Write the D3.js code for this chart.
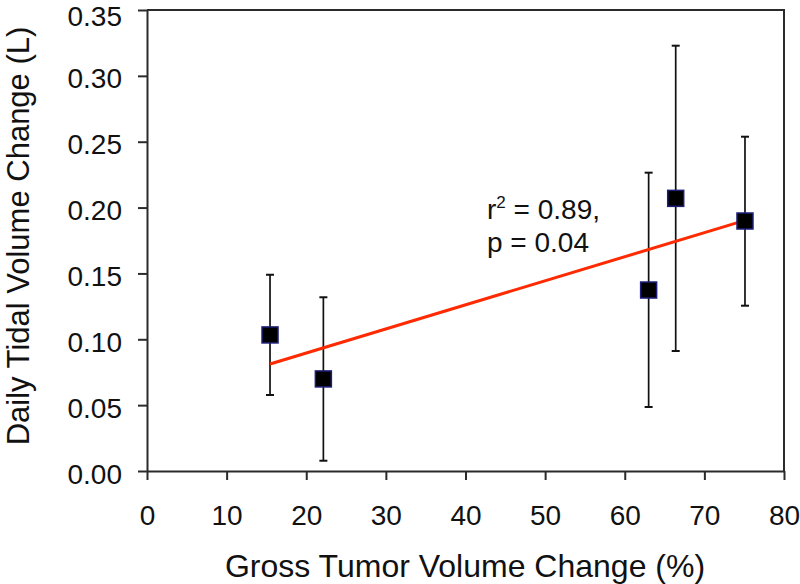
<!DOCTYPE html>
<html>
<head>
<meta charset="utf-8">
<script src="https://cdn.jsdelivr.net/npm/d3@7"></script>
<style>
  html, body { margin: 0; padding: 0; background: #fff; }
  svg { display: block; font-family: "Liberation Sans", Arial, sans-serif; }
</style>
</head>
<body>
<svg id="chart" width="800" height="584"></svg>
<script>
// Data
const tumorChange = [15.45, 22.15, 63.0, 66.4, 75.1];      // x (%)
const tidalChange = [0.1033, 0.0699, 0.1374, 0.2070, 0.1898]; // y (L)
const errLow  = [0.0577, 0.0078, 0.0486, 0.0911, 0.1255];
const errHigh = [0.1490, 0.1319, 0.2265, 0.3229, 0.2538];
const trendX = [15.45, 75.1];
const trendY = [0.0812, 0.1903];
const xTicks = [0, 10, 20, 30, 40, 50, 60, 70, 80];
const yTicks = [0, 0.05, 0.10, 0.15, 0.20, 0.25, 0.30, 0.35];
const xTitle = "Gross Tumor Volume Change (%)";
const yTitle = "Daily Tidal Volume Change (L)";

const svg = d3.select("#chart");
const L = 147, R = 784, T = 10, B = 471;
const x = d3.scaleLinear().domain([0, 80]).range([L, R]);
const y = d3.scaleLinear().domain([0, 0.35]).range([B, T]);
const axisColor = "#2b2b2b";

// frame (top & right)
svg.append("path")
  .attr("d", `M${L},${T}H${R}V${B}`)
  .attr("fill", "none").attr("stroke", axisColor).attr("stroke-width", 2);

// x axis
const gx = svg.append("g").attr("transform", `translate(0,${B})`)
  .call(d3.axisBottom(x).tickValues(xTicks).tickFormat(d3.format("d")).tickSizeInner(9).tickSizeOuter(0).tickPadding(0));
gx.select(".domain").attr("stroke", axisColor).attr("stroke-width", 2);
gx.selectAll(".tick line").attr("stroke", axisColor).attr("stroke-width", 2);
gx.selectAll(".tick text").attr("font-size", 28).attr("fill", "#111")
  .attr("font-family", "Liberation Sans, Arial, sans-serif")
  .attr("y", 54).attr("dy", 0);

// y axis
const gy = svg.append("g").attr("transform", `translate(${L},0)`)
  .call(d3.axisLeft(y).tickValues(yTicks).tickFormat(d3.format(".2f")).tickSizeInner(9).tickSizeOuter(0));
gy.select(".domain").attr("stroke", axisColor).attr("stroke-width", 2);
gy.selectAll(".tick line").attr("stroke", axisColor).attr("stroke-width", 2);
gy.selectAll(".tick text").attr("font-size", 28).attr("fill", "#111")
  .attr("font-family", "Liberation Sans, Arial, sans-serif")
  .attr("x", -25).attr("dy", d => d === 0.35 ? "0.55em" : "0.43em");

// axis titles
svg.append("text").attr("x", 465).attr("y", 577).attr("text-anchor", "middle")
  .attr("font-size", 32).attr("fill", "#111").text(xTitle);
svg.append("text").attr("transform", `translate(29,${236}) rotate(-90)`).attr("text-anchor", "middle")
  .attr("font-size", 31).attr("fill", "#111").text(yTitle);

const pts = tumorChange.map((v, i) => ({x: v, y: tidalChange[i], lo: errLow[i], hi: errHigh[i]}));

// error bars
const eb = svg.append("g").attr("stroke", "#111").attr("stroke-width", 1.7);
eb.selectAll("line.v").data(pts).join("line").attr("class", "v")
  .attr("x1", d => x(d.x)).attr("x2", d => x(d.x))
  .attr("y1", d => y(d.lo)).attr("y2", d => y(d.hi));
eb.selectAll("line.ch").data(pts).join("line").attr("class", "ch")
  .attr("x1", d => x(d.x) - 4).attr("x2", d => x(d.x) + 4)
  .attr("y1", d => y(d.hi)).attr("y2", d => y(d.hi)).attr("stroke-width", 2);
eb.selectAll("line.cl").data(pts).join("line").attr("class", "cl")
  .attr("x1", d => x(d.x) - 4).attr("x2", d => x(d.x) + 4)
  .attr("y1", d => y(d.lo)).attr("y2", d => y(d.lo)).attr("stroke-width", 2);

// regression line
svg.append("line")
  .attr("x1", x(trendX[0])).attr("y1", y(trendY[0]))
  .attr("x2", x(trendX[1])).attr("y2", y(trendY[1]))
  .attr("stroke", "#ff2a00").attr("stroke-width", 3);

// markers
const s = 16;
svg.append("g").selectAll("rect").data(pts).join("rect")
  .attr("x", d => x(d.x) - s / 2).attr("y", d => y(d.y) - s / 2)
  .attr("width", s).attr("height", s)
  .attr("fill", "#000").attr("stroke", "#1e1e78").attr("stroke-width", 1.5);

// annotation
const ann = svg.append("text").attr("x", 487).attr("y", 219).attr("font-size", 28).attr("fill", "#111");
ann.append("tspan").text("r");
ann.append("tspan").attr("font-size", 17).attr("dy", -11).text("2");
ann.append("tspan").attr("dy", 11).text(" = 0.89,");
svg.append("text").attr("x", 487).attr("y", 252).attr("font-size", 28).attr("fill", "#111").text("p = 0.04");
</script>
</body>
</html>
